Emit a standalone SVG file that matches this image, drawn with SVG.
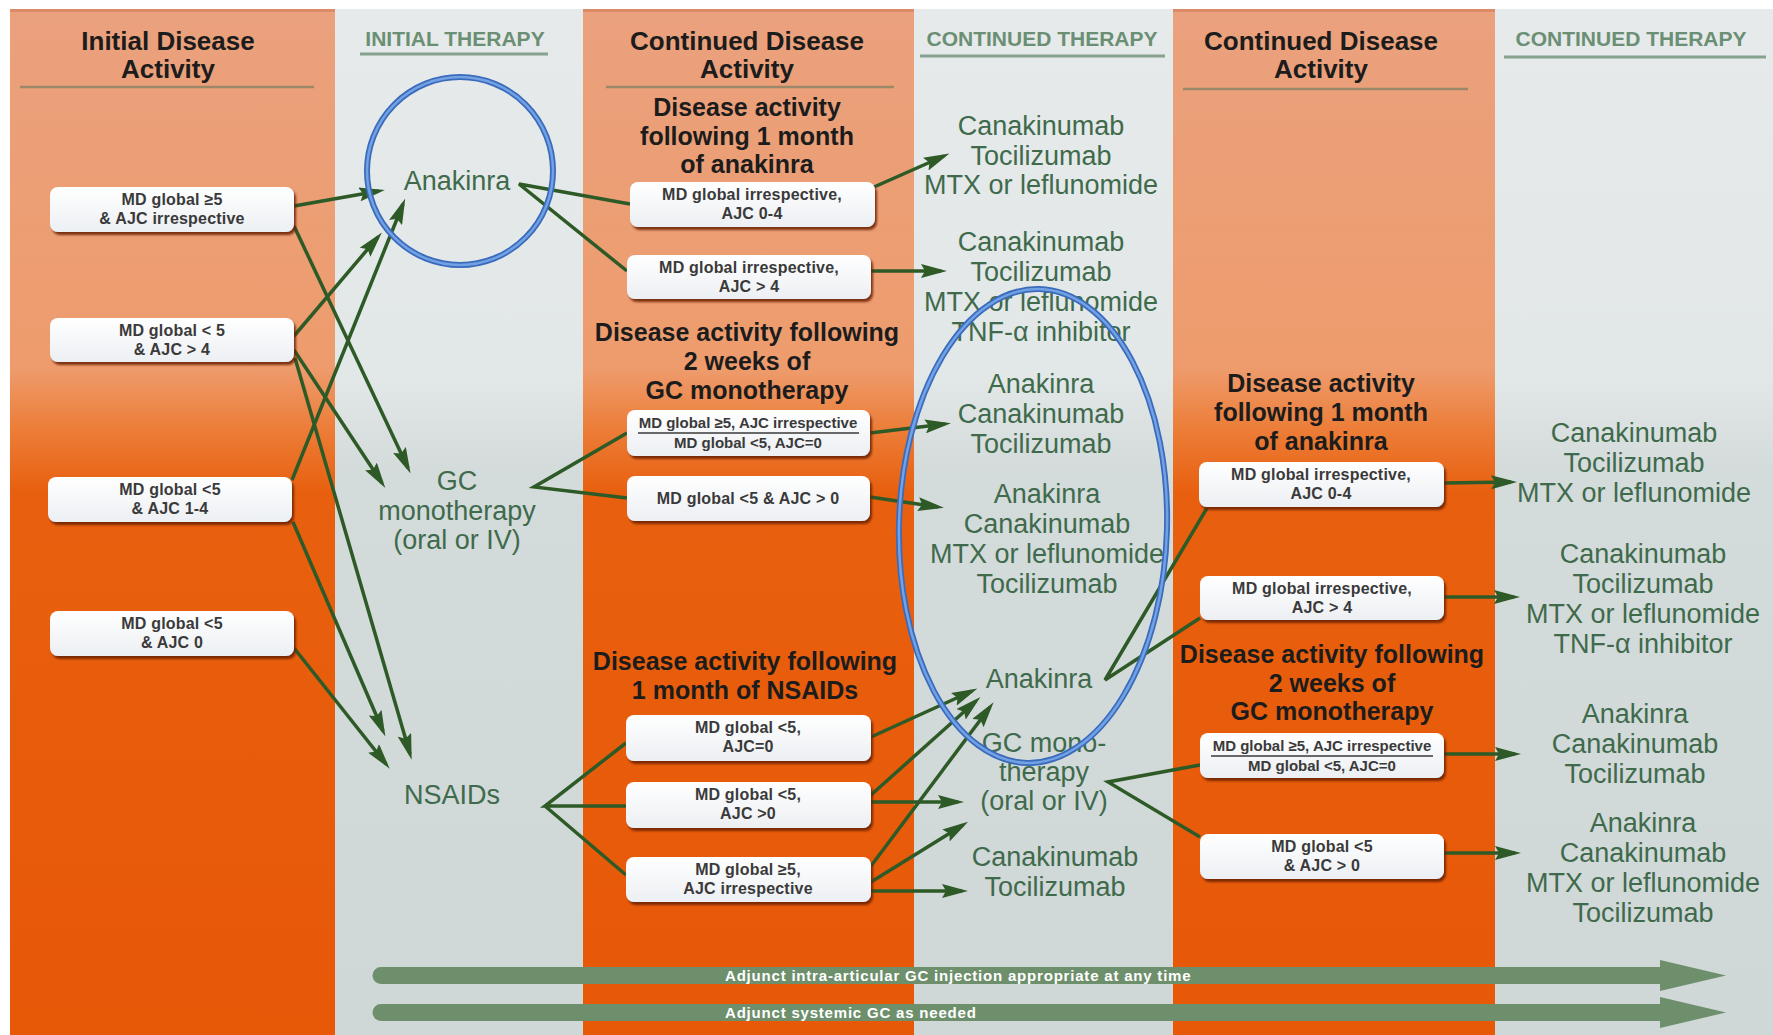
<svg xmlns="http://www.w3.org/2000/svg" width="1773" height="1035" viewBox="0 0 1773 1035">
  <defs>
    <linearGradient id="orangeCol" gradientUnits="userSpaceOnUse" x1="0" y1="9" x2="0" y2="1035">
      <stop offset="0" stop-color="#EAA17D"/>
      <stop offset="0.35" stop-color="#EE9C6D"/>
      <stop offset="0.41" stop-color="#EC7D38"/>
      <stop offset="0.47" stop-color="#E8600F"/>
      <stop offset="1" stop-color="#E75807"/>
    </linearGradient>
    <linearGradient id="greyCol" gradientUnits="userSpaceOnUse" x1="0" y1="9" x2="0" y2="1035">
      <stop offset="0" stop-color="#E6EAEA"/>
      <stop offset="0.36" stop-color="#E2E7E7"/>
      <stop offset="0.45" stop-color="#D4DBDB"/>
      <stop offset="1" stop-color="#CFD7D7"/>
    </linearGradient>
    <linearGradient id="boxFill" x1="0" y1="0" x2="0" y2="1">
      <stop offset="0" stop-color="#FFFFFF"/>
      <stop offset="1" stop-color="#ECEFF3"/>
    </linearGradient>
    <filter id="boxShadow" x="-5%" y="-15%" width="112%" height="140%">
      <feDropShadow dx="2" dy="3" stdDeviation="1.3" flood-color="#6B1C06" flood-opacity="0.85"/>
    </filter>
    <marker id="ah" viewBox="0 0 26 14" markerWidth="26" markerHeight="14" refX="20" refY="7" orient="auto" markerUnits="userSpaceOnUse">
      <path d="M0,0 L26,7 L0,14 L4,7 Z" fill="#2D5A26"/>
    </marker>
    <style>
      .hdr { font-family: "Liberation Sans", Arial, sans-serif; font-weight: bold; font-size: 26px; fill: #1C1C1C; text-anchor: middle; }
      .cap { font-family: "Liberation Sans", Arial, sans-serif; font-weight: bold; font-size: 21px; fill: #6B8F74; text-anchor: middle; }
      .lbl { font-family: "Liberation Sans", Arial, sans-serif; font-weight: bold; font-size: 25px; fill: #1C1C1C; text-anchor: middle; }
      .drug { font-family: "Liberation Sans", Arial, sans-serif; font-size: 27px; fill: #3F6A4C; text-anchor: middle; }
      .box rect { fill: url(#boxFill); filter: url(#boxShadow); }
      .bt { font-family: "Liberation Sans", Arial, sans-serif; font-weight: bold; font-size: 16px; fill: #3A3A3A; text-anchor: middle; letter-spacing: 0.2px; }
      .bt.sm { font-size: 15px; letter-spacing: 0; }
      .rule { stroke: #9A8868; stroke-width: 2.5; }
      .capRule { stroke: #86A290; stroke-width: 3; }
      .conn path { fill: none; stroke: #2D5A26; stroke-width: 3.5; stroke-linejoin: miter; }
      .conn .arr { marker-end: url(#ah); }
      .band { fill: #6E8F6C; }
      .bandText { font-family: "Liberation Sans", Arial, sans-serif; font-weight: bold; font-size: 15px; fill: #FFFFFF; letter-spacing: 0.8px; }
      .mark { fill: none; }
    </style>
  </defs>

  <!-- page and column backgrounds -->
  <rect x="0" y="0" width="1773" height="1035" fill="#FFFFFF"/>
  <g id="columns">
    <rect x="10" y="9" width="325" height="1026" fill="url(#orangeCol)"/>
    <rect x="335" y="9" width="248" height="1026" fill="url(#greyCol)"/>
    <rect x="583" y="9" width="331" height="1026" fill="url(#orangeCol)"/>
    <rect x="914" y="9" width="259" height="1026" fill="url(#greyCol)"/>
    <rect x="1173" y="9" width="322" height="1026" fill="url(#orangeCol)"/>
    <rect x="1495" y="9" width="278" height="1026" fill="url(#greyCol)"/>
    <rect x="10" y="9" width="325" height="3" fill="#DC8B68"/>
    <rect x="583" y="9" width="331" height="3" fill="#DC8B68"/>
    <rect x="1173" y="9" width="322" height="3" fill="#DC8B68"/>
  </g>

  <!-- column headings -->
  <g id="headings">
    <text class="hdr" x="168" y="50">Initial Disease</text>
    <text class="hdr" x="168" y="78">Activity</text>
    <line class="rule" x1="20" y1="87" x2="314" y2="87"/>
    <text class="cap" x="455" y="46">INITIAL THERAPY</text>
    <line class="capRule" x1="360" y1="54" x2="548" y2="54"/>
    <text class="hdr" x="747" y="50">Continued Disease</text>
    <text class="hdr" x="747" y="78">Activity</text>
    <line class="rule" x1="606" y1="87" x2="894" y2="87"/>
    <text class="cap" x="1042" y="46">CONTINUED THERAPY</text>
    <line class="capRule" x1="920" y1="56" x2="1165" y2="56"/>
    <text class="hdr" x="1321" y="50">Continued Disease</text>
    <text class="hdr" x="1321" y="78">Activity</text>
    <line class="rule" x1="1183" y1="89" x2="1468" y2="89"/>
    <text class="cap" x="1631" y="46">CONTINUED THERAPY</text>
    <line class="capRule" x1="1504" y1="57" x2="1766" y2="57"/>
  </g>

  <!-- section labels inside the disease activity columns -->
  <g id="sectionLabels">
    <text class="lbl" x="747" y="116">Disease activity</text>
    <text class="lbl" x="747" y="145">following 1 month</text>
    <text class="lbl" x="747" y="173">of anakinra</text>
    <text class="lbl" x="747" y="341">Disease activity following</text>
    <text class="lbl" x="747" y="370">2 weeks of</text>
    <text class="lbl" x="747" y="399">GC monotherapy</text>
    <text class="lbl" x="745" y="670">Disease activity following</text>
    <text class="lbl" x="745" y="699">1 month of NSAIDs</text>
    <text class="lbl" x="1321" y="392">Disease activity</text>
    <text class="lbl" x="1321" y="421">following 1 month</text>
    <text class="lbl" x="1321" y="450">of anakinra</text>
    <text class="lbl" x="1332" y="663">Disease activity following</text>
    <text class="lbl" x="1332" y="692">2 weeks of</text>
    <text class="lbl" x="1332" y="720">GC monotherapy</text>
  </g>

  <!-- connectors -->
  <g id="connectors" class="conn">
    <!-- initial disease activity to initial therapy -->
    <path class="arr" d="M294,206 L379,191"/>
    <path class="arr" d="M294,226 L408,468"/>
    <path class="arr" d="M294,336 L378,237"/>
    <path class="arr" d="M294,350 L382,483"/>
    <path class="arr" d="M295,358 L410,754"/>
    <path class="arr" d="M292,480 L403,204"/>
    <path class="arr" d="M293,522 L383,731"/>
    <path class="arr" d="M294,648 L386,764"/>
    <!-- initial therapy forks -->
    <path d="M630,204 L519,184 L627,271"/>
    <path d="M627,433 L534,487 L627,498"/>
    <path d="M626,743 L545,806 L626,806 M545,806 L626,875"/>
    <!-- continued disease activity to continued therapy -->
    <path class="arr" d="M874,187 L944,156"/>
    <path class="arr" d="M871,271 L941,271"/>
    <path class="arr" d="M870,433 L945,424"/>
    <path class="arr" d="M870,497 L938,507"/>
    <path class="arr" d="M871,737 L972,691"/>
    <path class="arr" d="M871,795 L976,701"/>
    <path class="arr" d="M871,802 L958,802"/>
    <path class="arr" d="M871,866 L990,707"/>
    <path class="arr" d="M871,882 L963,825"/>
    <path class="arr" d="M871,891 L962,891"/>
    <!-- continued therapy forks -->
    <path d="M1207,508 L1105,680 L1200,618"/>
    <path d="M1200,765 L1108,782 L1200,837"/>
    <!-- second stage to final therapy -->
    <path class="arr" d="M1444,483 L1511,482"/>
    <path class="arr" d="M1444,597 L1514,597"/>
    <path class="arr" d="M1444,754 L1515,754"/>
    <path class="arr" d="M1444,853 L1515,853"/>
  </g>

  <!-- disease activity boxes -->
  <g id="boxA" class="box"><rect x="50" y="187" width="244" height="45" rx="8"/>
    <text class="bt" x="172" y="205">MD global ≥5</text><text class="bt" x="172" y="224">&amp; AJC irrespective</text></g>
  <g id="boxB" class="box"><rect x="50" y="318" width="244" height="44" rx="8"/>
    <text class="bt" x="172" y="336">MD global &lt; 5</text><text class="bt" x="172" y="355">&amp; AJC &gt; 4</text></g>
  <g id="boxC" class="box"><rect x="48" y="477" width="244" height="45" rx="8"/>
    <text class="bt" x="170" y="495">MD global &lt;5</text><text class="bt" x="170" y="514">&amp; AJC 1-4</text></g>
  <g id="boxD" class="box"><rect x="50" y="611" width="244" height="45" rx="8"/>
    <text class="bt" x="172" y="629">MD global &lt;5</text><text class="bt" x="172" y="648">&amp; AJC 0</text></g>

  <g id="boxE" class="box"><rect x="630" y="182" width="245" height="45" rx="8"/>
    <text class="bt" x="752" y="200">MD global irrespective,</text><text class="bt" x="752" y="219">AJC 0-4</text></g>
  <g id="boxF" class="box"><rect x="627" y="255" width="244" height="44" rx="8"/>
    <text class="bt" x="749" y="273">MD global irrespective,</text><text class="bt" x="749" y="292">AJC &gt; 4</text></g>
  <g id="boxG" class="box"><rect x="627" y="410" width="243" height="46" rx="8"/>
    <text class="bt sm" x="748" y="428">MD global ≥5, AJC irrespective</text>
    <line x1="638" y1="433" x2="859" y2="433" stroke="#3A3A3A" stroke-width="1.3"/>
    <text class="bt sm" x="748" y="448">MD global &lt;5, AJC=0</text></g>
  <g id="boxH" class="box"><rect x="627" y="476" width="243" height="45" rx="8"/>
    <text class="bt" x="748" y="504">MD global &lt;5 &amp; AJC &gt; 0</text></g>
  <g id="boxI" class="box"><rect x="626" y="715" width="245" height="46" rx="8"/>
    <text class="bt" x="748" y="733">MD global &lt;5,</text><text class="bt" x="748" y="752">AJC=0</text></g>
  <g id="boxJ" class="box"><rect x="626" y="782" width="245" height="46" rx="8"/>
    <text class="bt" x="748" y="800">MD global &lt;5,</text><text class="bt" x="748" y="819">AJC &gt;0</text></g>
  <g id="boxK" class="box"><rect x="626" y="857" width="245" height="45" rx="8"/>
    <text class="bt" x="748" y="875">MD global ≥5,</text><text class="bt" x="748" y="894">AJC irrespective</text></g>

  <g id="boxL" class="box"><rect x="1199" y="462" width="245" height="45" rx="8"/>
    <text class="bt" x="1321" y="480">MD global irrespective,</text><text class="bt" x="1321" y="499">AJC 0-4</text></g>
  <g id="boxM" class="box"><rect x="1200" y="576" width="244" height="44" rx="8"/>
    <text class="bt" x="1322" y="594">MD global irrespective,</text><text class="bt" x="1322" y="613">AJC &gt; 4</text></g>
  <g id="boxN" class="box"><rect x="1200" y="733" width="244" height="45" rx="8"/>
    <text class="bt sm" x="1322" y="751">MD global ≥5, AJC irrespective</text>
    <line x1="1211" y1="756" x2="1433" y2="756" stroke="#3A3A3A" stroke-width="1.3"/>
    <text class="bt sm" x="1322" y="771">MD global &lt;5, AJC=0</text></g>
  <g id="boxO" class="box"><rect x="1200" y="834" width="244" height="45" rx="8"/>
    <text class="bt" x="1322" y="852">MD global &lt;5</text><text class="bt" x="1322" y="871">&amp; AJC &gt; 0</text></g>

  <!-- initial therapy options -->
  <g id="initAnakinra"><text class="drug" x="457" y="190">Anakinra</text></g>
  <g id="initGC"><text class="drug" x="457" y="490">GC</text><text class="drug" x="457" y="520">monotherapy</text><text class="drug" x="457" y="549">(oral or IV)</text></g>
  <g id="initNSAIDs"><text class="drug" x="452" y="804">NSAIDs</text></g>

  <!-- continued therapy options (first stage) -->
  <g id="ct1"><text class="drug" x="1041" y="135">Canakinumab</text><text class="drug" x="1041" y="165">Tocilizumab</text><text class="drug" x="1041" y="194">MTX or leflunomide</text></g>
  <g id="ct2"><text class="drug" x="1041" y="251">Canakinumab</text><text class="drug" x="1041" y="281">Tocilizumab</text><text class="drug" x="1041" y="311">MTX or leflunomide</text><text class="drug" x="1041" y="341">TNF-α inhibitor</text></g>
  <g id="ct3"><text class="drug" x="1041" y="393">Anakinra</text><text class="drug" x="1041" y="423">Canakinumab</text><text class="drug" x="1041" y="453">Tocilizumab</text></g>
  <g id="ct4"><text class="drug" x="1047" y="503">Anakinra</text><text class="drug" x="1047" y="533">Canakinumab</text><text class="drug" x="1047" y="563">MTX or leflunomide</text><text class="drug" x="1047" y="593">Tocilizumab</text></g>
  <g id="ct5"><text class="drug" x="1039" y="688">Anakinra</text></g>
  <g id="ct6"><text class="drug" x="1044" y="752">GC mono-</text><text class="drug" x="1044" y="781">therapy</text><text class="drug" x="1044" y="810">(oral or IV)</text></g>
  <g id="ct7"><text class="drug" x="1055" y="866">Canakinumab</text><text class="drug" x="1055" y="896">Tocilizumab</text></g>

  <!-- continued therapy options (second stage) -->
  <g id="ft1"><text class="drug" x="1634" y="442">Canakinumab</text><text class="drug" x="1634" y="472">Tocilizumab</text><text class="drug" x="1634" y="502">MTX or leflunomide</text></g>
  <g id="ft2"><text class="drug" x="1643" y="563">Canakinumab</text><text class="drug" x="1643" y="593">Tocilizumab</text><text class="drug" x="1643" y="623">MTX or leflunomide</text><text class="drug" x="1643" y="653">TNF-α inhibitor</text></g>
  <g id="ft3"><text class="drug" x="1635" y="723">Anakinra</text><text class="drug" x="1635" y="753">Canakinumab</text><text class="drug" x="1635" y="783">Tocilizumab</text></g>
  <g id="ft4"><text class="drug" x="1643" y="832">Anakinra</text><text class="drug" x="1643" y="862">Canakinumab</text><text class="drug" x="1643" y="892">MTX or leflunomide</text><text class="drug" x="1643" y="922">Tocilizumab</text></g>

  <!-- adjunct therapy bands -->
  <g id="adjunctBands">
    <path class="band" d="M381,967 L1660,967 L1660,960 L1726,975.5 L1660,991 L1660,984 L381,984 A8.5,8.5 0 0 1 381,967 Z"/>
    <text class="bandText" x="725" y="981">Adjunct intra-articular GC injection appropriate at any time</text>
    <path class="band" d="M381,1004 L1660,1004 L1660,997 L1726,1012.5 L1660,1028 L1660,1021 L381,1021 A8.5,8.5 0 0 1 381,1004 Z"/>
    <text class="bandText" x="725" y="1018">Adjunct systemic GC as needed</text>
  </g>

  <!-- highlight outlines -->
  <g id="highlights" class="mark">
    <ellipse cx="460" cy="171" rx="93" ry="94" stroke="#3A6BBC" stroke-width="6"/>
    <ellipse cx="460" cy="171" rx="93" ry="94" stroke="#73A2E4" stroke-width="2.5"/>
    <ellipse cx="1033" cy="526" rx="134" ry="237" transform="rotate(1.5 1033 526)" stroke="#3A6BBC" stroke-width="6"/>
    <ellipse cx="1033" cy="526" rx="134" ry="237" transform="rotate(1.5 1033 526)" stroke="#73A2E4" stroke-width="2.5"/>
  </g>
</svg>
